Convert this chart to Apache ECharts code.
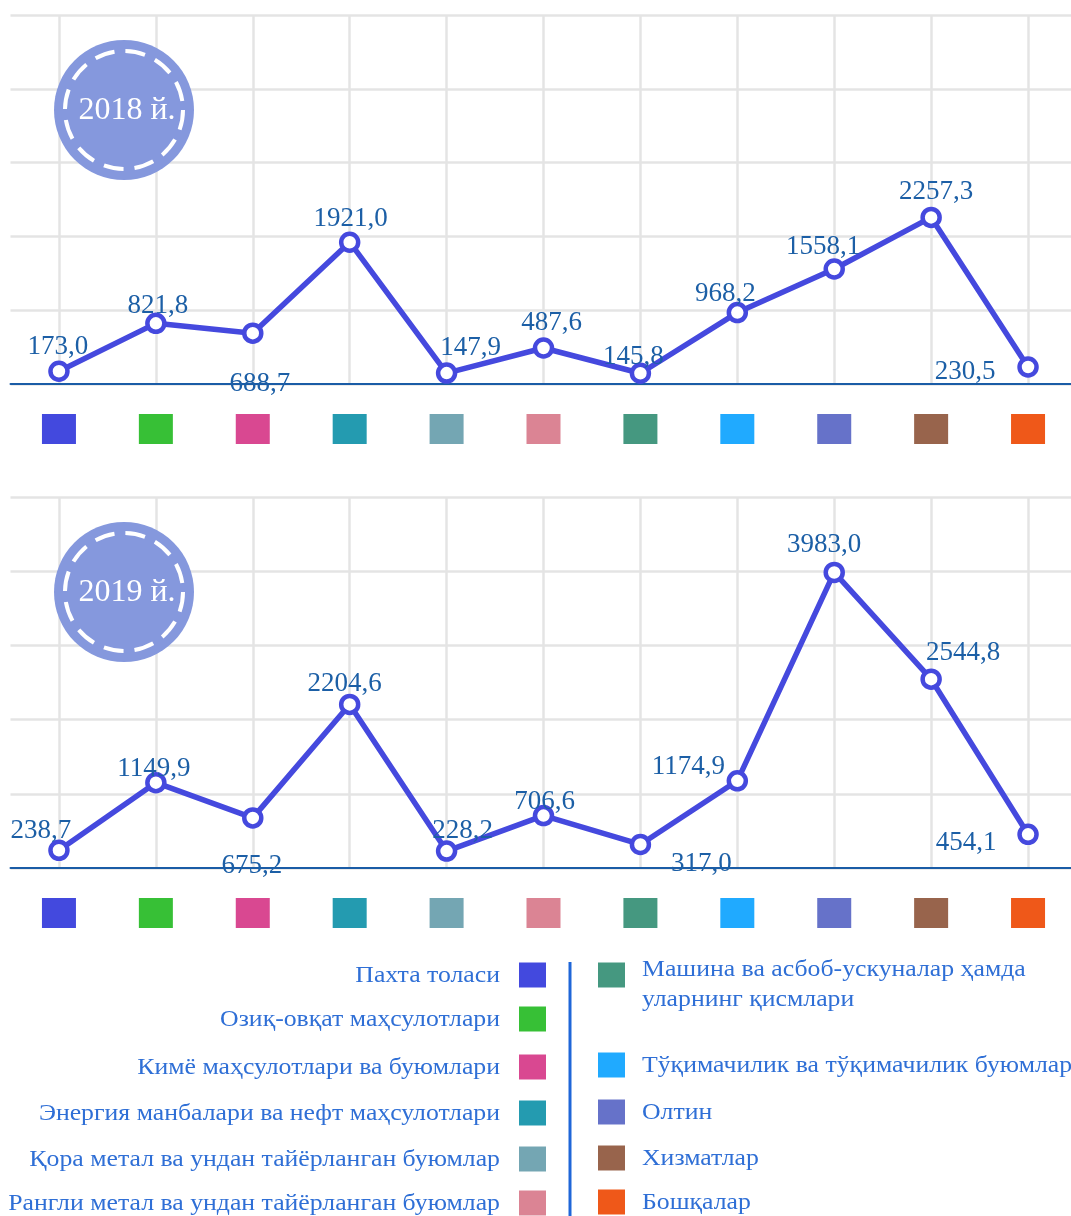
<!DOCTYPE html>
<html>
<head>
<meta charset="utf-8">
<script src="https://cdn.jsdelivr.net/npm/echarts@6/dist/echarts.min.js"></script>
<style>
html, body { margin: 0; padding: 0; background: #fff; }
#app { width: 1071px; height: 1216px; }
</style>
</head>
<body>
<div id="app"></div>
<script>
// категориялар
var categories = [
    'Пахта толаси',
    'Озиқ-овқат маҳсулотлари',
    'Кимё маҳсулотлари ва буюмлари',
    'Энергия манбалари ва нефт маҳсулотлари',
    'Қора метал ва ундан тайёрланган буюмлар',
    'Рангли метал ва ундан тайёрланган буюмлар',
    'Машина ва асбоб-ускуналар ҳамда\nуларнинг қисмлари',
    'Тўқимачилик ва тўқимачилик буюмлари',
    'Олтин',
    'Хизматлар',
    'Бошқалар'
];
var categoryColors = ['#4349de', '#37c036', '#d94891', '#249bb0', '#74a6b3', '#db8494',
    '#459880', '#20aaff', '#6672c9', '#98644c', '#ef5819'];

var values2018 = [173.0, 821.8, 688.7, 1921.0, 147.9, 487.6, 145.8, 968.2, 1558.1, 2257.3, 230.5];
var values2019 = [238.7, 1149.9, 675.2, 2204.6, 228.2, 706.6, 317.0, 1174.9, 3983.0, 2544.8, 454.1];
var years = ['2018 й.', '2019 й.'];

// ёрлиқлар силжиши (пиксел)
var offsets2018 = [[-1, -24], [2, -17], [7, 51], [1, -23], [24, -25], [8, -25], [-7, -16], [-12, -19], [-11, -22], [5, -26], [-63, 5]];
var offsets2019 = [[-18, -19], [-2, -14], [-1, 48], [-5, -21], [16, -20], [1, -14], [61, 19], [-49, -14], [-10, -28], [32, -26], [-62, 9]];

var serif = '"Liberation Serif", "Times New Roman", serif';
var lineColor = '#4549de';
var labelColor = '#1c5fa6';
var gridColor = '#e4e4e4';

var rich = {};
categoryColors.forEach(function (c, i) {
    rich['s' + i] = { width: 34, height: 30, backgroundColor: c };
});

function xAxisFor(gridIndex) {
    return {
        type: 'category',
        gridIndex: gridIndex,
        data: categories,
        boundaryGap: true,
        axisLine: { lineStyle: { color: '#1a5ca6', width: 2 } },
        axisTick: { alignWithLabel: true, length: 13, lineStyle: { color: '#1a5ca6', width: 1.5 } },
        splitLine: { show: true, alignWithLabel: true, lineStyle: { color: gridColor, width: 2.5 } },
        axisLabel: {
            interval: 0,
            margin: 30,
            formatter: function (v, i) { return '{s' + i + '| }'; },
            rich: rich
        }
    };
}
function yAxisFor(gridIndex) {
    return {
        type: 'value',
        gridIndex: gridIndex,
        min: 0,
        max: 5000,
        interval: 1000,
        axisLine: { show: false },
        axisTick: { show: false },
        axisLabel: { show: false },
        splitLine: { lineStyle: { color: gridColor, width: 2.5 } }
    };
}
function fmt(v) {
    return v.toFixed(1).replace('.', ',');
}
function seriesFor(idx, values, offsets) {
    return {
        type: 'line',
        xAxisIndex: idx,
        yAxisIndex: idx,
        data: values.map(function (v, i) {
            return { value: v, label: { offset: offsets[i] } };
        }),
        symbol: 'circle',
        symbolSize: 17,
        itemStyle: { color: '#fff', borderColor: lineColor, borderWidth: 4.5 },
        lineStyle: { color: lineColor, width: 5.5 },
        z: 3,
        label: {
            show: true,
            position: 'inside',
            align: 'center',
            verticalAlign: 'middle',
            color: labelColor,
            fontFamily: serif,
            fontSize: 27,
            formatter: function (p) { return fmt(p.value); }
        }
    };
}

// нишонлар ва легенда
var graphics = [];
var badgeCenters = [110, 592];
years.forEach(function (y, i) {
    var cy = badgeCenters[i];
    graphics.push({ type: 'circle', shape: { cx: 124, cy: cy, r: 70 }, style: { fill: '#8598dd' }, z: 10 });
    graphics.push({ type: 'circle', shape: { cx: 124, cy: cy, r: 59 },
        style: { fill: 'none', stroke: '#fff', lineWidth: 4, lineDash: [20, 11] }, z: 11 });
    graphics.push({ type: 'text', x: 127, y: cy + 1, z: 12,
        style: { text: y, fill: '#fff', font: '32px ' + serif, align: 'center', verticalAlign: 'middle' } });
});

var leftRows = [975, 1019, 1067, 1113, 1159, 1203];
var rightRows = [975, 1065, 1112, 1158, 1202];
var legendColor = '#2f6fd6';
var legendFont = '23px ' + serif;
var stretch = 1.12;
categories.forEach(function (name, i) {
    if (i < 6) {
        var cy = leftRows[i];
        graphics.push({ type: 'rect', shape: { x: 519, y: cy - 12.5, width: 27, height: 25 },
            style: { fill: categoryColors[i] } });
        graphics.push({ type: 'text', x: 500, y: cy + 1, scaleX: stretch,
            style: { text: name, fill: legendColor, font: legendFont, align: 'right', verticalAlign: 'middle' } });
    } else {
        var ry = rightRows[i - 6];
        graphics.push({ type: 'rect', shape: { x: 598, y: ry - 12.5, width: 27, height: 25 },
            style: { fill: categoryColors[i] } });
        var multi = name.indexOf('\n') >= 0;
        graphics.push({ type: 'text', x: 642, y: multi ? ry + 10 : ry + 1, scaleX: stretch,
            style: { text: name, fill: legendColor, font: legendFont, lineHeight: 30,
                align: 'left', verticalAlign: 'middle' } });
    }
});
graphics.push({ type: 'rect', shape: { x: 568.5, y: 962, width: 3, height: 254 }, style: { fill: '#1f66d8' } });

var myChart = echarts.init(document.getElementById('app'));
myChart.setOption({
    backgroundColor: '#fff',
    animation: false,
    grid: [
        { left: 10.5, top: 15, width: 1066, height: 369, outerBoundsMode: 'none' },
        { left: 10.5, top: 497, width: 1066, height: 371, outerBoundsMode: 'none' }
    ],
    xAxis: [xAxisFor(0), xAxisFor(1)],
    yAxis: [yAxisFor(0), yAxisFor(1)],
    series: [
        seriesFor(0, values2018, offsets2018),
        seriesFor(1, values2019, offsets2019)
    ],
    graphic: graphics
});
</script>
</body>
</html>
